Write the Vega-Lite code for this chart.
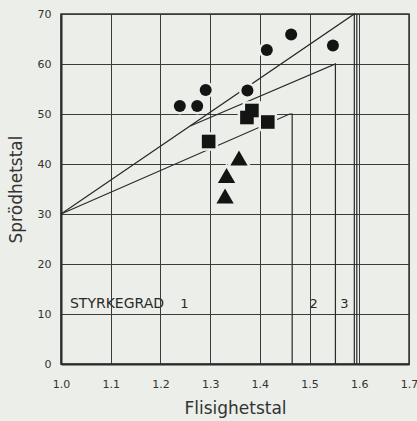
{
  "$schema": "https://vega.github.io/schema/vega-lite/v6.json",
  "width": 348,
  "height": 350,
  "autosize": "none",
  "padding": {"left": 61, "top": 14, "right": 8, "bottom": 57},
  "background": "#eceee9",
  "config": {
    "view": {"stroke": "#333333", "strokeWidth": 1.5},
    "font": "DejaVu Sans",
    "axis": {
      "grid": true,
      "gridColor": "#3a3a3a",
      "gridWidth": 1,
      "gridOpacity": 1,
      "tickSize": 0,
      "domainColor": "#2a2a2a",
      "domainWidth": 2,
      "labelFont": "DejaVu Sans",
      "labelFontSize": 11,
      "labelColor": "#333333",
      "labelFlush": false,
      "titleFont": "DejaVu Sans",
      "titleFontSize": 17,
      "titleFontWeight": "normal",
      "titleColor": "#333333"
    }
  },
  "datasets": {
    "pts": [
      {"type": "circle", "x": 1.239, "y": 51.6},
      {"type": "circle", "x": 1.274, "y": 51.6},
      {"type": "circle", "x": 1.291, "y": 54.8},
      {"type": "circle", "x": 1.375, "y": 54.7},
      {"type": "circle", "x": 1.414, "y": 62.8},
      {"type": "circle", "x": 1.463, "y": 65.9},
      {"type": "circle", "x": 1.547, "y": 63.7},
      {"type": "square", "x": 1.297, "y": 44.5},
      {"type": "square", "x": 1.374, "y": 49.3},
      {"type": "square", "x": 1.384, "y": 50.7},
      {"type": "square", "x": 1.416, "y": 48.4},
      {"type": "triangle", "x": 1.358, "y": 41.2},
      {"type": "triangle", "x": 1.333, "y": 37.7},
      {"type": "triangle", "x": 1.330, "y": 33.6}
    ]
  },
  "encoding": {
    "x": {
      "field": "x", "type": "quantitative",
      "scale": {"domain": [1.0, 1.7], "nice": false, "zero": false},
      "axis": {"values": [1.0, 1.1, 1.2, 1.3, 1.4, 1.5, 1.6, 1.7], "format": ".1f", "labelPadding": 14, "title": "Flisighetstal", "titlePadding": 11}
    },
    "y": {
      "field": "y", "type": "quantitative",
      "scale": {"domain": [0, 70], "nice": false},
      "axis": {"values": [0, 10, 20, 30, 40, 50, 60, 70], "labelPadding": 10, "title": "Sprödhetstal", "titlePadding": 12}
    }
  },
  "layer": [
    {
      "data": {"values": [
        {"seg": "a", "ord": 1, "x": 1.0, "y": 30},
        {"seg": "a", "ord": 2, "x": 1.59, "y": 70},
        {"seg": "a", "ord": 3, "x": 1.59, "y": 0},
        {"seg": "b", "ord": 1, "x": 1.595, "y": 70},
        {"seg": "b", "ord": 2, "x": 1.595, "y": 0},
        {"seg": "c", "ord": 1, "x": 1.26, "y": 47.6},
        {"seg": "c", "ord": 2, "x": 1.552, "y": 60},
        {"seg": "c", "ord": 3, "x": 1.552, "y": 0},
        {"seg": "d", "ord": 1, "x": 1.0, "y": 30},
        {"seg": "d", "ord": 2, "x": 1.46, "y": 50},
        {"seg": "d", "ord": 3, "x": 1.465, "y": 50},
        {"seg": "d", "ord": 4, "x": 1.465, "y": 0}
      ]},
      "mark": {"type": "line", "color": "#2a2a2a", "strokeWidth": 1.2},
      "encoding": {
        "detail": {"field": "seg", "type": "nominal"},
        "order": {"field": "ord", "type": "quantitative"}
      }
    },
    {
      "data": {"name": "pts"},
      "transform": [{"filter": "datum.type == 'circle'"}],
      "mark": {"type": "point", "shape": "circle", "size": 144, "filled": true, "color": "#eceee9", "stroke": "#eceee9", "strokeWidth": 5, "opacity": 1}
    },
    {
      "data": {"name": "pts"},
      "transform": [{"filter": "datum.type == 'square'"}],
      "mark": {"type": "point", "shape": "square", "size": 185, "filled": true, "color": "#eceee9", "strokeWidth": 5, "stroke": "#eceee9", "opacity": 1}
    },
    {
      "data": {"name": "pts"},
      "transform": [{"filter": "datum.type == 'triangle'"}],
      "mark": {"type": "point", "shape": "triangle-up", "size": 300, "filled": true, "color": "#eceee9", "strokeWidth": 5, "stroke": "#eceee9", "opacity": 1}
    },
    {
      "data": {"name": "pts"},
      "transform": [{"filter": "datum.type == 'square'"}],
      "mark": {"type": "point", "shape": "square", "size": 185, "filled": true, "color": "#141414", "opacity": 1}
    },
    {
      "data": {"name": "pts"},
      "transform": [{"filter": "datum.type == 'circle'"}],
      "mark": {"type": "point", "shape": "circle", "size": 144, "filled": true, "color": "#141414", "opacity": 1}
    },
    {
      "data": {"name": "pts"},
      "transform": [{"filter": "datum.type == 'triangle'"}],
      "mark": {"type": "point", "shape": "triangle-up", "size": 300, "filled": true, "color": "#141414", "opacity": 1}
    },
    {
      "data": {"values": [
        {"label": "STYRKEGRAD", "x": 1.018, "y": 12, "al": "left"},
        {"label": "1", "x": 1.248, "y": 12, "al": "center"},
        {"label": "2", "x": 1.508, "y": 12, "al": "center"},
        {"label": "3", "x": 1.570, "y": 12, "al": "center"}
      ]},
      "layer": [
        {
          "transform": [{"filter": "datum.al == 'left'"}],
          "mark": {"type": "text", "align": "left", "baseline": "middle", "fontSize": 14, "color": "#2a2a2a", "font": "DejaVu Sans"},
          "encoding": {"text": {"field": "label"}}
        },
        {
          "transform": [{"filter": "datum.al == 'center'"}],
          "mark": {"type": "text", "align": "center", "baseline": "middle", "fontSize": 13, "color": "#2a2a2a", "font": "DejaVu Sans"},
          "encoding": {"text": {"field": "label"}}
        }
      ]
    }
  ]
}
